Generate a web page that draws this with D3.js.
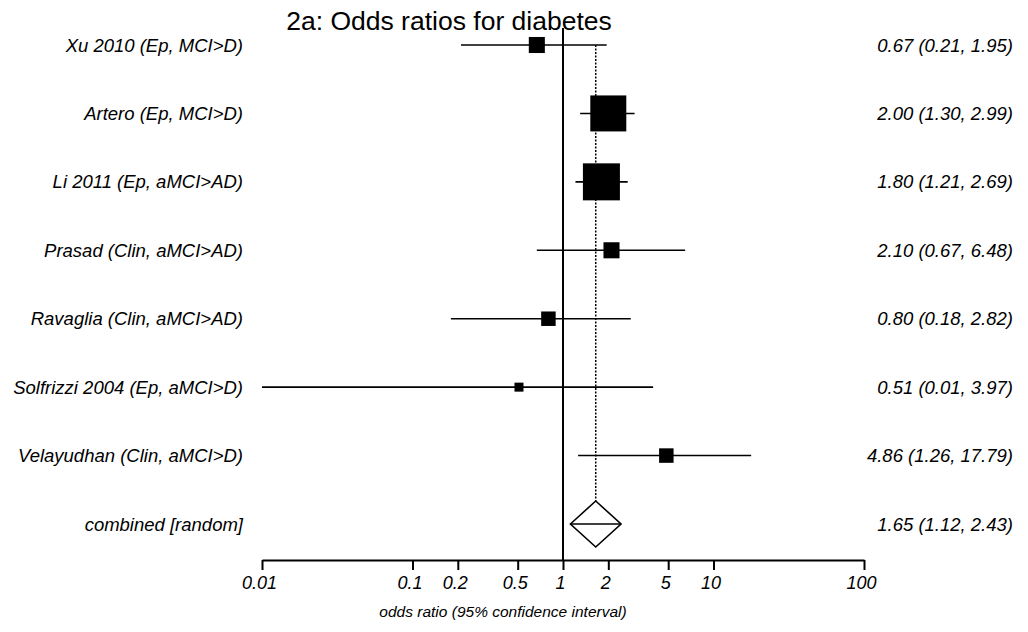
<!DOCTYPE html>
<html>
<head>
<meta charset="utf-8">
<script src="https://cdn.jsdelivr.net/npm/d3@7"></script>
<style>
  body { margin: 0; background: #fff; }
  text { font-family: "Liberation Sans", Arial, sans-serif; fill: #000; }
</style>
</head>
<body>
<div id="chart"></div>
<script>
// Study data
const studies = ['Xu 2010 (Ep, MCI>D)', 'Artero (Ep, MCI>D)', 'Li 2011 (Ep, aMCI>AD)',
  'Prasad (Clin, aMCI>AD)', 'Ravaglia (Clin, aMCI>AD)', 'Solfrizzi 2004 (Ep, aMCI>D)',
  'Velayudhan (Clin, aMCI>D)'];
const oddsRatio = [0.67, 2.00, 1.80, 2.10, 0.80, 0.51, 4.86];
const lowerCI = [0.21, 1.30, 1.21, 0.67, 0.18, 0.01, 1.26];
const upperCI = [1.95, 2.99, 2.69, 6.48, 2.82, 3.97, 17.79];
const weights = [7.0, 35.2, 37.2, 7.0, 5.7, 2.2, 5.7]; // % weight (box area)

const pooledLabel = 'combined [random]';
const pooled = { or: 1.65, lo: 1.12, hi: 2.43 };

const tickValues = [0.01, 0.1, 0.2, 0.5, 1, 2, 5, 10, 100];
const tickLabels = ['0.01', '0.1', '0.2', '0.5', '1', '2', '5', '10', '100'];

const width = 1028, height = 632;

const svg = d3.select('#chart').append('svg')
    .attr('width', width)
    .attr('height', height);

const x = d3.scaleLog().domain([0.01, 100]).range([262, 864]);
const rows = studies.concat([pooledLabel]);
const y = d3.scalePoint().domain(rows).range([45, 524]);
const boxSize = d3.scaleSqrt().domain([0, 37.2]).range([0, 37]);

const fmt = d3.format('.2f');

// Title
svg.append('text')
    .attr('x', 449)
    .attr('y', 30)
    .attr('text-anchor', 'middle')
    .style('font-size', '26.5px')
    .text('2a: Odds ratios for diabetes');

// Line of no effect
svg.append('line')
    .attr('x1', x(1)).attr('x2', x(1))
    .attr('y1', 28).attr('y2', 560)
    .style('stroke', '#000')
    .style('stroke-width', 2);

// Pooled estimate reference (dotted)
svg.append('line')
    .attr('x1', x(pooled.or)).attr('x2', x(pooled.or))
    .attr('y1', y(studies[0])).attr('y2', y(pooledLabel) - 23)
    .style('stroke', '#000')
    .style('stroke-width', 1.5)
    .style('stroke-dasharray', '2,1.5');

const data = studies.map((s, i) => ({
    name: s, or: oddsRatio[i], lo: lowerCI[i], hi: upperCI[i], w: weights[i]
}));

const g = svg.append('g');

// Confidence intervals
g.selectAll('.ci')
    .data(data)
    .join('line')
    .attr('class', 'ci')
    .attr('x1', d => x(d.lo))
    .attr('x2', d => x(d.hi))
    .attr('y1', d => y(d.name))
    .attr('y2', d => y(d.name))
    .style('stroke', '#000')
    .style('stroke-width', 1.6);

// Weight boxes
g.selectAll('.box')
    .data(data)
    .join('rect')
    .attr('class', 'box')
    .attr('x', d => x(d.or) - boxSize(d.w) / 2)
    .attr('y', d => y(d.name) - boxSize(d.w) / 2)
    .attr('width', d => boxSize(d.w))
    .attr('height', d => boxSize(d.w))
    .style('fill', '#000');

// Pooled diamond
const py = y(pooledLabel);
const dh = 23;
svg.append('path')
    .attr('d', `M${x(pooled.lo)},${py} L${x(pooled.or)},${py - dh} L${x(pooled.hi)},${py} L${x(pooled.or)},${py + dh} Z`)
    .style('fill', '#fff')
    .style('stroke', '#000')
    .style('stroke-width', 1.6);
svg.append('line')
    .attr('x1', x(pooled.lo)).attr('x2', x(pooled.hi))
    .attr('y1', py).attr('y2', py)
    .style('stroke', '#000')
    .style('stroke-width', 1.6);

// Study labels on the left
svg.selectAll('.study-label')
    .data(rows)
    .join('text')
    .attr('class', 'study-label')
    .attr('x', 243)
    .attr('y', d => y(d) + 6.5)
    .attr('text-anchor', 'end')
    .style('font-size', '18.5px')
    .style('font-style', 'italic')
    .text(d => d);

// Estimates on the right
const estimates = data.map(d => ({ name: d.name, or: d.or, lo: d.lo, hi: d.hi }))
    .concat([{ name: pooledLabel, or: pooled.or, lo: pooled.lo, hi: pooled.hi }]);
svg.selectAll('.est-label')
    .data(estimates)
    .join('text')
    .attr('class', 'est-label')
    .attr('x', 1013)
    .attr('y', d => y(d.name) + 6.5)
    .attr('text-anchor', 'end')
    .style('font-size', '18.5px')
    .style('font-style', 'italic')
    .text(d => `${fmt(d.or)} (${fmt(d.lo)}, ${fmt(d.hi)})`);

// X axis
const xAxis = d3.axisBottom(x)
    .tickValues(tickValues)
    .tickFormat((d, i) => tickLabels[i])
    .tickSize(10)
    .tickSizeOuter(0)
    .tickPadding(6);

const axisG = svg.append('g')
    .attr('transform', 'translate(0,560)')
    .call(xAxis);

axisG.select('.domain').style('stroke-width', 2).style('stroke', '#000');
axisG.selectAll('.tick line').style('stroke-width', 2).style('stroke', '#000');
axisG.selectAll('.tick text')
    .style('font-family', '"Liberation Sans", Arial, sans-serif')
    .style('font-size', '18px')
    .style('font-style', 'italic')
    .attr('dx', -3);

// Axis title
svg.append('text')
    .attr('x', 503)
    .attr('y', 617)
    .attr('text-anchor', 'middle')
    .style('font-size', '15.5px')
    .style('font-style', 'italic')
    .text('odds ratio (95% confidence interval)');
</script>
</body>
</html>
